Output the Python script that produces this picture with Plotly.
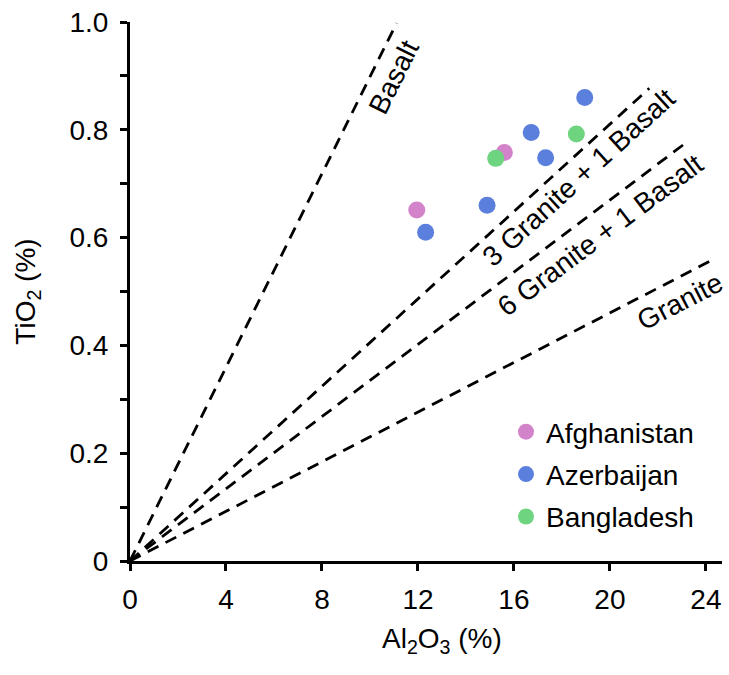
import math
import plotly.graph_objects as go

# ---- data ----
afg_x = [11.95, 15.6]
afg_y = [0.651, 0.758]
aze_x = [12.32, 14.88, 16.72, 17.32, 18.95]
aze_y = [0.610, 0.660, 0.795, 0.748, 0.860]
ban_x = [15.24, 18.6]
ban_y = [0.747, 0.792]

line_names = ["Basalt", "3 Granite + 1 Basalt", "6 Granite + 1 Basalt", "Granite"]
line_end_x = [11.11, 21.64, 23.29, 24.33]
line_end_y = [0.998, 0.877, 0.780, 0.560]

x_ticks = [0, 4, 8, 12, 16, 20, 24]
y_ticks = [0, 0.2, 0.4, 0.6, 0.8, 1.0]
y_tick_text = ["0", "0.2", "0.4", "0.6", "0.8", "1.0"]

# ---- layout geometry ----
W, H = 729, 675
ML, MR, MT, MB = 130, 7, 22, 114
XR = [0, 24.67]
YR = [0, 1.0]
pw, ph = W - ML - MR, H - MT - MB
sx = pw / (XR[1] - XR[0])
sy = ph / (YR[1] - YR[0])

FONT = "Liberation Sans, Arial, sans-serif"
FS = 28

fig = go.Figure()

for nm, ex, ey in zip(line_names, line_end_x, line_end_y):
    fig.add_trace(go.Scatter(
        x=[0, ex], y=[0, ey], mode="lines", showlegend=False,
        line=dict(color="black", width=2.8, dash="12px,8px"),
        hoverinfo="skip", name=nm))

colors = ["#d383c9", "#5b7fdc", "#6fd47f"]
for nm, xs, ys, c in zip(["Afghanistan", "Azerbaijan", "Bangladesh"],
                         [afg_x, aze_x, ban_x], [afg_y, aze_y, ban_y], colors):
    fig.add_trace(go.Scatter(
        x=xs, y=ys, mode="markers", name=nm, legendgroup=nm,
        marker=dict(color=c, size=17, line=dict(width=0))))

# labels along lines
label_frac = [0.918, 0.84, 0.817, 0.925]
label_off = [22, 19, 22, 22]
for nm, ex, ey, f, off in zip(line_names, line_end_x, line_end_y, label_frac, label_off):
    dxp, dyp = ex * sx, ey * sy
    L = math.hypot(dxp, dyp)
    ang = math.degrees(math.atan2(dyp, dxp))
    ux, uy = dxp / L, dyp / L
    nx, ny = uy, -ux
    fig.add_annotation(
        x=ex * f, y=ey * f, xref="x", yref="y", text=nm, showarrow=False,
        textangle=-ang, xshift=off * nx, yshift=off * ny,
        font=dict(family=FONT, size=FS, color="black"),
        xanchor="center", yanchor="middle")

# x-axis title (placed as annotation to match the reference position)
fig.add_annotation(
    x=(442 - ML) / pw, y=-(640 - (H - MB)) / ph, xref="paper", yref="paper",
    text="Al<sub>2</sub>O<sub>3</sub> (%)", showarrow=False,
    xanchor="center", yanchor="middle",
    font=dict(family=FONT, size=FS, color="black"))

fig.update_layout(
    width=W, height=H,
    margin=dict(l=ML, r=MR, t=MT, b=MB, autoexpand=False),
    plot_bgcolor="white", paper_bgcolor="white",
    font=dict(family=FONT, size=FS, color="black"),
    showlegend=True,
    legend=dict(x=(506 - ML) / pw, y=(561 - 407) / ph, xanchor="left", yanchor="top",
                bgcolor="rgba(0,0,0,0)", font=dict(family=FONT, size=FS),
                traceorder="grouped", tracegroupgap=3, itemsizing="trace"),
    xaxis=dict(range=XR, tickvals=x_ticks, showline=True, linecolor="black", linewidth=3,
               ticks="outside", ticklen=7, tickwidth=3, tickcolor="black",
               showgrid=False, zeroline=False, ticklabelstandoff=4, automargin=False),
    yaxis=dict(range=YR, tickvals=y_ticks, ticktext=y_tick_text, showline=True,
               linecolor="black", linewidth=3, ticks="outside", ticklen=7, tickwidth=3,
               tickcolor="black", showgrid=False, zeroline=False, ticklabelstandoff=6,
               automargin=False,
               minor=dict(dtick=0.1, ticks="outside", ticklen=7, tickwidth=3, tickcolor="black"),
               title=dict(text="TiO<sub>2</sub> (%)", standoff=26,
                          font=dict(family=FONT, size=FS))),
)

fig.write_html("out.html", config={"displayModeBar": False},
               post_script="document.body.style.margin='0';")
